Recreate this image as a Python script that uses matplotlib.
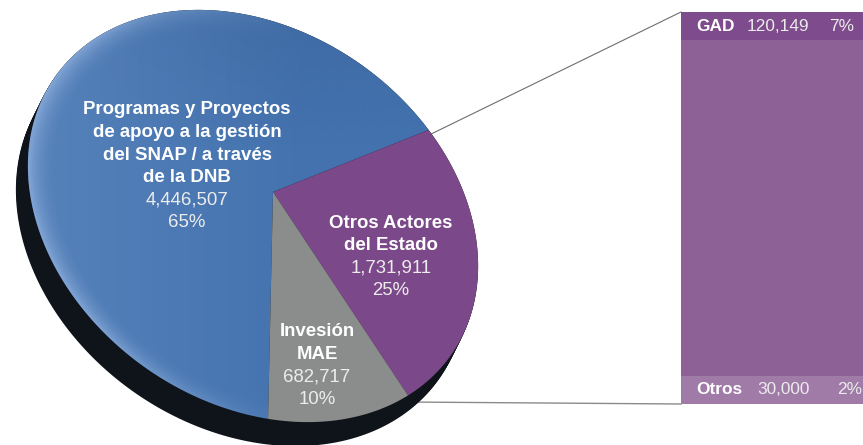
import numpy as np
import matplotlib
matplotlib.use('Agg')
import matplotlib.pyplot as plt
from matplotlib.patches import Polygon

# ---------------- data ----------------
pie_titles = ['Programas y Proyectos\nde apoyo a la gestión\ndel SNAP / a través\nde la DNB',
              'Otros Actores\ndel Estado',
              'Invesión\nMAE']
pie_values = [4446507, 1731911, 682717]
pie_pcts = ['65%', '25%', '10%']
pie_colors = ['#4372ae', '#7b4989', '#8b8c8c']

bar_titles = ['GAD', 'Ministerios', 'Otros']
bar_values = [120149, 1581862, 30000]
bar_pcts = ['7%', '92%', '2%']
bar_colors = ['#7e4b8c', '#8e6196', '#a07ba8']

# ---------------- figure ----------------
W, H = 863, 445
fig = plt.figure(figsize=(W / 100, H / 100), dpi=100)
ax = fig.add_axes([0, 0, 1, 1])

BOLD = dict(family=['Liberation Sans', 'DejaVu Sans'], fontweight='bold', color='white')
LIGHT = dict(family=['Liberation Sans', 'DejaVu Sans'], fontweight='normal', color='#ececec')

# ---------------- perspective pie geometry ----------------
E = np.array([253., 216.])           # ellipse centre (px)
a_ax, b_ax, phi = 242., 186., np.deg2rad(35)
V = np.array([273., 192.])           # apex of slices (px)
Rm = np.array([[np.cos(phi), -np.sin(phi)], [np.sin(phi), np.cos(phi)]])
A = Rm @ np.diag([a_ax, b_ax])
Ainv = np.linalg.inv(A)
q = Ainv @ (V - E)
r = np.hypot(*q)
al = np.arctan2(q[1], q[0])


def rz(t):
    return np.array([[np.cos(t), -np.sin(t), 0], [np.sin(t), np.cos(t), 0], [0, 0, 1]])


ch = 1 / np.sqrt(1 - r * r)
sh = r * ch
B = rz(al) @ np.array([[ch, 0, sh], [0, 1, 0], [sh, 0, ch]]) @ rz(-al)
Binv = np.linalg.inv(B)


def to_pix(u):
    x, y = u[:, 0], -u[:, 1]
    h = B @ np.vstack([x, y, np.ones_like(x)])
    up = (h[:2] / h[2]).T
    return E + up @ A.T


# start angle so that the grey/blue boundary points straight down
T = np.array([268., 418.])
up = Ainv @ (T - E)
up /= np.hypot(*up)
hh = Binv @ np.array([up[0], up[1], 1.0])
uu = hh[:2] / hh[2]
start = -np.degrees(np.arctan2(uu[1], uu[0]))

tmp = fig.add_axes([0, 0, 0.05, 0.05])
wedges, _ = tmp.pie(pie_values, startangle=start, counterclock=False)
fig.delaxes(tmp)

# shadow / thickness
tt = np.linspace(0, 2 * np.pi, 400)
circ = np.column_stack([np.cos(tt), np.sin(tt)])
outline = to_pix(circ)
off = np.array([-12., 24.])
for k in np.linspace(0, 1, 25):
    ax.add_patch(Polygon(outline + k * off, closed=True, fc='#0f131a', ec='none', zorder=1))

slice_polys = []
for w, col in zip(wedges, pie_colors):
    th = np.radians(np.linspace(w.theta1, w.theta2, 200))
    pts = np.vstack([[0, 0], np.column_stack([np.cos(th), np.sin(th)])])
    pp = to_pix(pts)
    poly = Polygon(pp, closed=True, fc=col, ec='none', zorder=2)
    ax.add_patch(poly)
    slice_polys.append(poly)

# shading: lighter left side / rim highlight on the pie
X, Y = np.meshgrid(np.arange(0, 500) + 0.5, np.arange(0, 445) + 0.5)
du = np.einsum('ij,jkl->ikl', Ainv, np.stack([X - E[0], Y - E[1]]))
rho = np.hypot(du[0], du[1])
left = np.clip((E[0] + 60 - X) / 260, 0, 1)
rim = np.clip((rho - 0.88) / 0.12, 0, 1) ** 2
alpha = 0.14 * left + 0.35 * rim * np.clip((E[0] + 40 - X) / 200, 0, 1)
img = np.zeros((445, 500, 4))
img[..., 0:3] = [0.78, 0.87, 1.0]
img[..., 3] = np.clip(alpha, 0, 0.6)
im = ax.imshow(img, extent=(0, 500, 445, 0), origin='upper', zorder=3, interpolation='bilinear')
im.set_clip_path(slice_polys[0])

# darker top band
top = np.clip((150 - Y) / 150, 0, 1) * np.clip((X - 60) / 200, 0, 1)
img2 = np.zeros((445, 500, 4))
img2[..., 0:3] = [0.12, 0.2, 0.35]
img2[..., 3] = 0.12 * top
im2 = ax.imshow(img2, extent=(0, 500, 445, 0), origin='upper', zorder=3, interpolation='bilinear')
im2.set_clip_path(slice_polys[0])

# ---------------- pie labels ----------------
pie_label_pos = [(187, 110), (391, 223), (317, 332)]
LS = 22.6
for title, val, pct, (lx, ly) in zip(pie_titles, pie_values, pie_pcts, pie_label_pos):
    y = ly
    for ln in title.split('\n'):
        ax.text(lx, y, ln, ha='center', va='center', fontsize=13.4, zorder=5, **BOLD)
        y += LS
    ax.text(lx, y, f'{val:,}', ha='center', va='center', fontsize=13.4, zorder=5, **LIGHT)
    y += LS
    ax.text(lx, y, pct, ha='center', va='center', fontsize=13.4, zorder=5, **LIGHT)

# ---------------- connector lines ----------------
ax.plot([425, 681], [137, 12], color='#6e6e6e', lw=0.8, zorder=0)
ax.plot([405, 681], [402, 404], color='#8a8a8a', lw=1.0, zorder=0)

ax.set_xlim(0, W)
ax.set_ylim(H, 0)
ax.set_aspect('auto')
ax.axis('off')

# ---------------- stacked bar ----------------
bx0, bx1, by0, by1 = 681, 866, 12, 404
bax = fig.add_axes([bx0 / W, 1 - by1 / H, (bx1 - bx0) / W, (by1 - by0) / H])
btotal = sum(bar_values)
disp = np.maximum(np.array(bar_values, float), 0.077 * btotal)
bottoms = np.concatenate([[0], np.cumsum(disp)[:-1]])
bax.bar([0.5] * 3, disp, bottom=bottoms, width=1.0, color=bar_colors, edgecolor='none')
bax.set_xlim(0, 1)
bax.set_ylim(disp.sum(), 0)
bax.axis('off')

FS = 12.4
for i, (t, v, p) in enumerate(zip(bar_titles, bar_values, bar_pcts)):
    yc = bottoms[i] + disp[i] / 2
    if i == 1:
        px, py = bax.transData.transform((0.5, yc))
        x_, y_ = ax.transData.inverted().transform((px, py))
        ax.text(x_, y_ - 29, t, ha='center', va='center', fontsize=FS, zorder=6, **BOLD)
        ax.text(x_, y_ - 9, f'{v:,}', ha='center', va='center', fontsize=FS, zorder=6, **LIGHT)
        ax.text(x_, y_ + 11, p, ha='center', va='center', fontsize=FS, zorder=6, **LIGHT)
    else:
        numx = 0.357 if i == 0 else 0.411
        pctx = 0.935 if i == 0 else 0.98
        bax.text(0.081, yc, t, ha='left', va='center', fontsize=FS, **BOLD)
        bax.text(numx, yc, f'{v:,}', ha='left', va='center', fontsize=FS, **LIGHT)
        bax.text(pctx, yc, p, ha='right', va='center', fontsize=FS, **LIGHT)

fig.savefig('out.png', dpi=100)
